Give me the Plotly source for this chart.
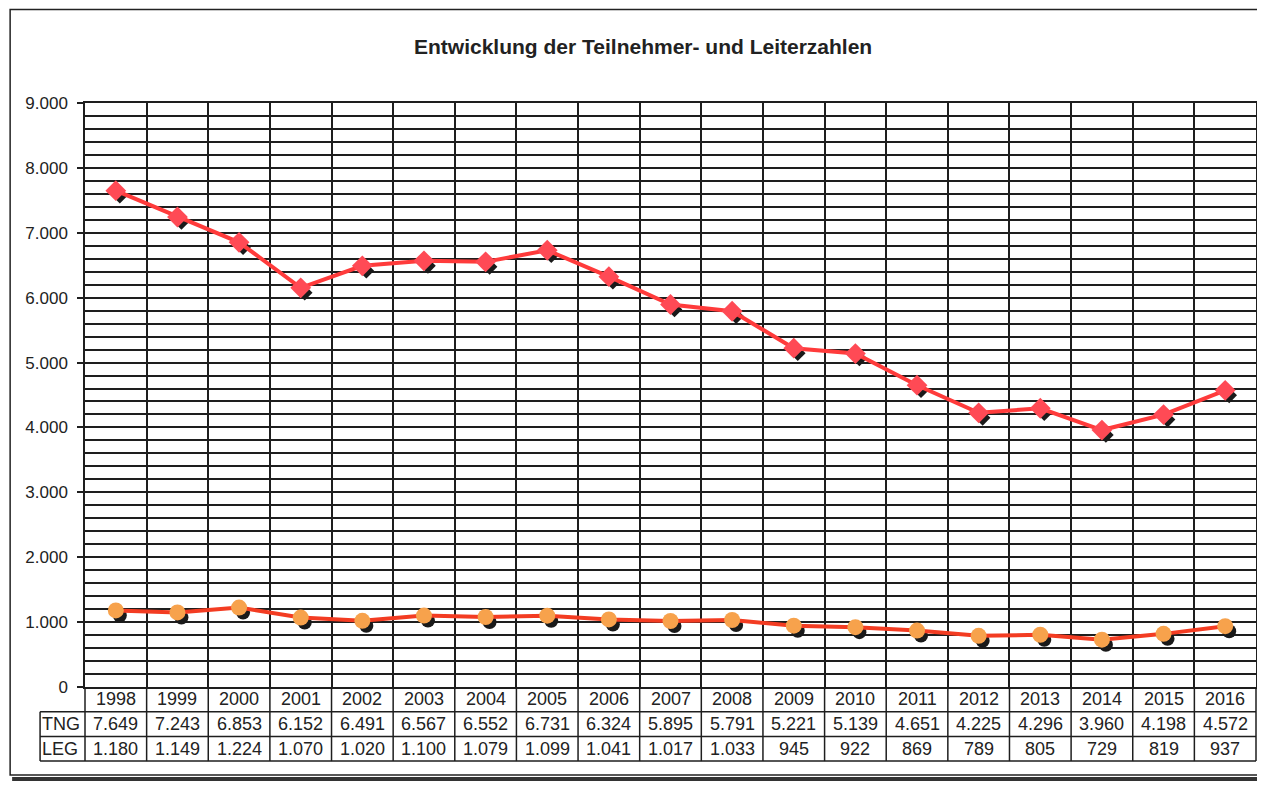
import plotly.graph_objects as go

# chart data
years = ["1998", "1999", "2000", "2001", "2002", "2003", "2004", "2005", "2006",
         "2007", "2008", "2009", "2010", "2011", "2012", "2013", "2014", "2015", "2016"]
tng = [7649, 7243, 6853, 6152, 6491, 6567, 6552, 6731, 6324,
       5895, 5791, 5221, 5139, 4651, 4225, 4296, 3960, 4198, 4572]
leg = [1180, 1149, 1224, 1070, 1020, 1100, 1079, 1099, 1041,
       1017, 1033, 945, 922, 869, 789, 805, 729, 819, 937]
row_labels = ["TNG", "LEG"]
title = "Entwicklung der Teilnehmer- und Leiterzahlen"

# the page body has an 8px margin, so the figure sits at (8, 8) in the window
OFF = 8
W, H = 1265 - OFF, 789 - OFF
PLOT_L, PLOT_R, PLOT_T, PLOT_B = 85, 1258, 103, 687   # window pixels
ML, MR = PLOT_L - OFF, W - (PLOT_R - OFF)
MT, MB = PLOT_T - OFF, H - (PLOT_B - OFF)
PW, PH = PLOT_R - PLOT_L, PLOT_B - PLOT_T
YMAX = 9000
n = len(years)
xi = list(range(n))

FONT = "Liberation Sans, Arial, sans-serif"
GRID = "#1e1e1e"


def px_x(px):
    """window x pixel -> paper x"""
    return (px - PLOT_L) / PW


def px_y(py):
    """window y pixel -> paper y"""
    return (PLOT_B - py) / PH


def de(v):
    return f"{v:,}".replace(",", ".")


fig = go.Figure()

# drop shadows (same data, drawn on overlay axes nudged a few pixels down/right)
fig.add_trace(go.Scatter(
    x=xi, y=tng, mode="markers", xaxis="x2", yaxis="y2",
    marker=dict(symbol="diamond", size=12, color="#1a1a1a"),
    hoverinfo="skip", showlegend=False,
))
fig.add_trace(go.Scatter(
    x=xi, y=leg, mode="markers", xaxis="x2", yaxis="y2",
    marker=dict(symbol="circle", size=14, color="#1a1a1a"),
    hoverinfo="skip", showlegend=False,
))

# the series themselves, on an unshifted overlay drawn above the shadows
fig.add_trace(go.Scatter(
    x=xi, y=tng, mode="lines+markers", name=row_labels[0], xaxis="x3", yaxis="y3",
    line=dict(color="#ff3b3b", width=4),
    marker=dict(symbol="diamond", size=16, color="#ff4a55"),
    customdata=years,
    hovertemplate="%{customdata}: %{y:,}<extra>TNG</extra>",
    showlegend=False,
))
fig.add_trace(go.Scatter(
    x=xi, y=leg, mode="lines+markers", name=row_labels[1], xaxis="x3", yaxis="y3",
    line=dict(color="#f33c22", width=4),
    marker=dict(symbol="circle", size=16, color="#f7a24c"),
    customdata=years,
    hovertemplate="%{customdata}: %{y:,}<extra>LEG</extra>",
    showlegend=False,
))

shapes = []
line = dict(color=GRID, width=1.5)

# data table below the plot
row_h = 24.7
rows_y = [PLOT_B + k * row_h for k in range(4)]
for k in (1, 2, 3):
    shapes.append(dict(type="line", xref="paper", yref="paper",
                       x0=px_x(40), x1=1, y0=px_y(rows_y[k]), y1=px_y(rows_y[k]),
                       line=line))
shapes.append(dict(type="line", xref="paper", yref="paper",
                   x0=px_x(40), x1=px_x(40), y0=px_y(rows_y[1]), y1=px_y(rows_y[3]),
                   line=line))
for i in range(n + 1):
    shapes.append(dict(type="line", xref="paper", yref="paper",
                       x0=i / n, x1=i / n, y0=px_y(rows_y[0]), y1=px_y(rows_y[3]),
                       line=line))

# outer chart frame and scan shadow
shapes.append(dict(type="rect", xref="paper", yref="paper",
                   x0=px_x(10), x1=px_x(1275), y0=px_y(775), y1=px_y(9.5),
                   line=dict(color="#222", width=1.5)))
shapes.append(dict(type="line", xref="paper", yref="paper",
                   x0=px_x(12), x1=px_x(1275), y0=px_y(779), y1=px_y(779),
                   line=dict(color="#333", width=4)))

annotations = [dict(
    text=f"<b>{title}</b>", xref="paper", yref="paper",
    x=px_x(644), y=px_y(46), showarrow=False, yanchor="middle",
    font=dict(family=FONT, size=21, color="#222"),
)]
cell_font = dict(family=FONT, size=18, color="#222")
for i, yr in enumerate(years):
    for k, txt in enumerate([yr, de(tng[i]), de(leg[i])]):
        annotations.append(dict(text=txt, x=i, xref="x",
                                y=px_y(rows_y[k] + row_h / 2), yref="paper",
                                xanchor="center", yanchor="middle",
                                showarrow=False, font=cell_font))
for k, lab in enumerate(row_labels):
    annotations.append(dict(text=lab, xref="paper", x=px_x(40), xanchor="left",
                            y=px_y(rows_y[k + 1] + row_h / 2), yref="paper",
                            yanchor="middle", showarrow=False, font=cell_font))

dx = 4 / (PW / n)
dy = 5 * YMAX / PH

fig.update_layout(
    width=W, height=H,
    margin=dict(l=ML, r=MR, t=MT, b=MB, pad=0),
    paper_bgcolor="white", plot_bgcolor="white",
    separators=",.",
    showlegend=False,
    font=dict(family=FONT, size=17, color="#222"),
    xaxis=dict(range=[-0.5, n - 0.5], tick0=-0.5, dtick=1, showticklabels=False,
               showgrid=True, gridcolor=GRID, gridwidth=1.5, zeroline=False,
               showline=True, linecolor=GRID, linewidth=1.5, mirror=True, ticks=""),
    yaxis=dict(range=[0, YMAX], dtick=1000, tickformat=",d",
               showgrid=True, gridcolor=GRID, gridwidth=1.5, zeroline=False,
               showline=True, linecolor=GRID, linewidth=1.5, mirror=True,
               ticks="outside", ticklen=6, tickcolor=GRID, tickwidth=1.5,
               ticklabelstandoff=6,
               minor=dict(dtick=200, showgrid=True, gridcolor=GRID, gridwidth=1.5),
               tickfont=dict(family=FONT, size=17, color="#222")),
    xaxis2=dict(range=[-0.5 - dx, n - 0.5 - dx], overlaying="x", visible=False),
    yaxis2=dict(range=[dy, YMAX + dy], overlaying="y", visible=False),
    xaxis3=dict(range=[-0.5, n - 0.5], overlaying="x", visible=False),
    yaxis3=dict(range=[0, YMAX], overlaying="y", visible=False),
    shapes=shapes,
    annotations=annotations,
)

fig.write_html("out.html")
